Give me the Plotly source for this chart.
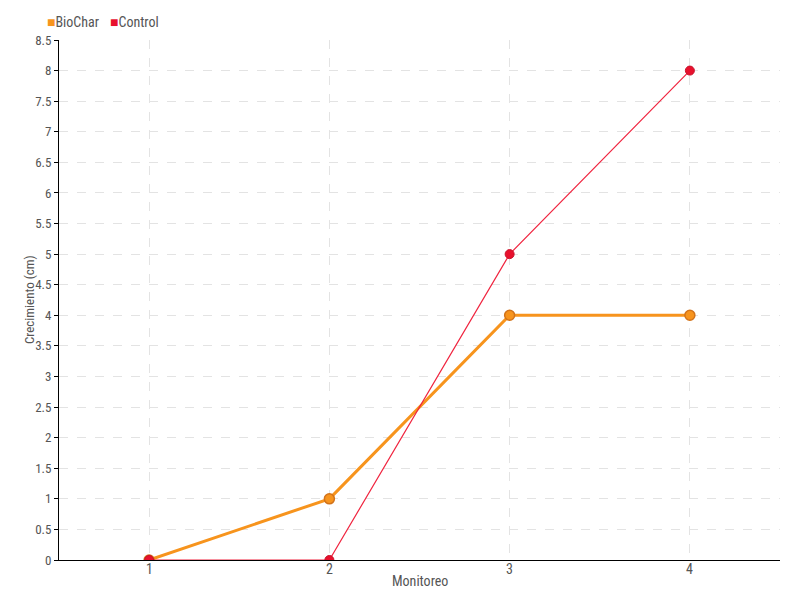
import plotly.graph_objects as go

monitoreo = [1, 2, 3, 4]
biochar = [0, 1, 4, 4]
control = [0, 0, 5, 8]
series_names = ["BioChar", "Control"]

FONT = "Roboto Condensed, Liberation Sans Narrow, sans-serif"
ORANGE = "#F7941D"
RED = "#E8112D"
TXT = "#555555"

W, H = 792, 592  # page has an 8px body margin

fig = go.Figure()
fig.add_trace(go.Scatter(
    x=monitoreo, y=biochar, name=series_names[0], mode="lines+markers",
    line=dict(color=ORANGE, width=3),
    marker=dict(size=10, color=ORANGE, line=dict(color="#D2731A", width=1.5)),
))
fig.add_trace(go.Scatter(
    x=monitoreo, y=control, name=series_names[1], mode="lines+markers",
    line=dict(color="#F0243F", width=1.2),
    marker=dict(size=9, color=RED, line=dict(color="#C8102A", width=1)),
))

# legend drawn as text with square swatches
fig.add_annotation(
    text=f'<span style="color:{ORANGE}">■</span>{series_names[0]}',
    xref="paper", yref="paper", x=0, y=1, xanchor="left", yanchor="middle",
    xshift=-14, yshift=18, showarrow=False, font=dict(size=14, color=TXT),
)
fig.add_annotation(
    text=f'<span style="color:{RED}">■</span>{series_names[1]}',
    xref="paper", yref="paper", x=0, y=1, xanchor="left", yanchor="middle",
    xshift=49, yshift=18, showarrow=False, font=dict(size=14, color=TXT),
)
# x tick labels placed close to the axis
for v in monitoreo:
    fig.add_annotation(text=str(v), xref="x", yref="paper", x=v, y=0,
                       xanchor="center", yanchor="middle", yshift=-9,
                       showarrow=False, font=dict(size=14, color=TXT))
# axis titles
fig.add_annotation(text="Monitoreo", xref="paper", yref="paper", x=0.5, y=0,
                   xanchor="center", yanchor="middle", yshift=-21, showarrow=False,
                   font=dict(size=14, color=TXT))
fig.add_annotation(text="Crecimiento (cm)", xref="paper", yref="paper", x=0, y=0.5,
                   xanchor="center", yanchor="middle", xshift=-30, textangle=-90,
                   showarrow=False, font=dict(size=13, color=TXT))

fig.update_layout(
    width=W, height=H,
    margin=dict(l=51, r=20, t=32, b=40, autoexpand=False),
    paper_bgcolor="white", plot_bgcolor="white",
    font=dict(family=FONT, size=14, color=TXT),
    showlegend=False,
    xaxis=dict(
        range=[0.5, 4.5], tickvals=monitoreo, showticklabels=False,
        showgrid=True, gridcolor="#E3E3E3", griddash="dash", gridwidth=1,
        showline=True, linecolor="black", linewidth=1,
        ticks="", zeroline=False, automargin=False,
    ),
    yaxis=dict(
        range=[0, 8.5], dtick=0.5, tickfont=dict(size=13),
        showgrid=True, gridcolor="#E3E3E3", griddash="dash", gridwidth=1,
        showline=True, linecolor="black", linewidth=1,
        ticks="outside", ticklen=4, tickcolor="black",
        zeroline=False, automargin=False,
    ),
)

fig.write_html("out.html")
